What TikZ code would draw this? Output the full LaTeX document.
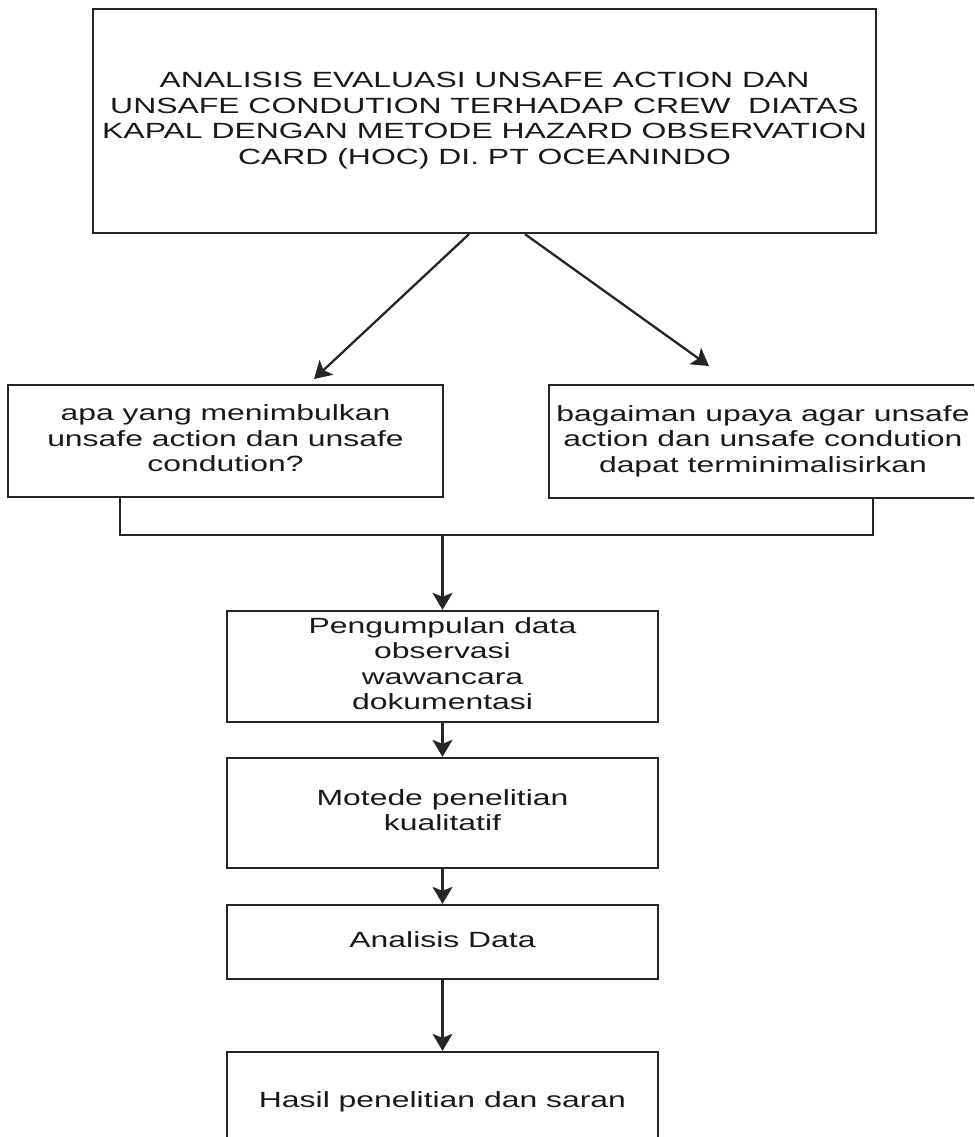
\documentclass[tikz,border=0pt]{standalone}
\usepackage{fontspec}
\setmainfont{Liberation Sans}
\usetikzlibrary{arrows.meta,positioning}

\newcommand{\wtext}[1]{\scalebox{1.45}[1]{\begin{tabular}{@{}c@{}}#1\end{tabular}}}

\begin{document}
\begin{tikzpicture}[x=1pt, y=-1pt]
\tikzstyle{box}=[draw=black!85, line width=2.3pt, inner sep=0pt, text=black!90, font=\fontsize{22}{25.5}\selectfont];
\tikzstyle{flow}=[draw=black!85, line width=2.3pt, -{Stealth[length=17pt, width=20pt, inset=4pt]}];
\tikzstyle{joint}=[draw=black!85, line width=2.3pt];

\useasboundingbox (0,0) rectangle (974,1137);
\clip (0,0) rectangle (974,1137);

\node[box, minimum width=783pt, minimum height=224pt] (title) at (484.5, 121) {\raisebox{4pt}{\wtext{ANALISIS EVALUASI UNSAFE ACTION DAN\\UNSAFE CONDUTION TERHADAP CREW\ \ DIATAS\\KAPAL DENGAN METODE HAZARD OBSERVATION\\CARD (HOC) DI. PT OCEANINDO}}};

\node[box, minimum width=435pt, minimum height=112pt] (cause) at (225.5, 441) {\wtext{apa yang menimbulkan\\unsafe action dan unsafe\\condution?}};
\node[box, minimum width=428pt, minimum height=113pt] (effort) at (763, 441.5) {\wtext{bagaiman upaya agar unsafe\\action dan unsafe condution\\dapat terminimalisirkan}};

\node[box, minimum width=431pt, minimum height=111pt] (collect) at (442.5, 666.5) {\wtext{Pengumpulan data\\observasi\\wawancara\\dokumentasi}};
\node[box, minimum width=431pt, minimum height=110pt] (method) at (442.5, 813) {\wtext{Motede penelitian\\kualitatif}};
\node[box, minimum width=431pt, minimum height=74pt] (analysis) at (442.5, 942) {\wtext{Analisis Data}};
\node[box, minimum width=431pt, minimum height=100pt] (result) at (442.5, 1102) {\wtext{Hasil penelitian dan saran}};

\coordinate (causetip) at (314, 379);
\coordinate (efforttip) at (709, 366);
\coordinate (join) at (442.5, 535);

\draw[flow] ([xshift=-15.5pt]title.south) -- (causetip);
\draw[flow] ([xshift=40.5pt]title.south) -- (efforttip);

\draw[joint] ([xshift=-105.5pt]cause.south) |- (join) -| ([xshift=110pt]effort.south);
\draw[flow] (join) -- (collect);

\draw[flow] (collect) -- (method);
\draw[flow] (method) -- (analysis);
\draw[flow] (analysis) -- (result);
\end{tikzpicture}
\end{document}
